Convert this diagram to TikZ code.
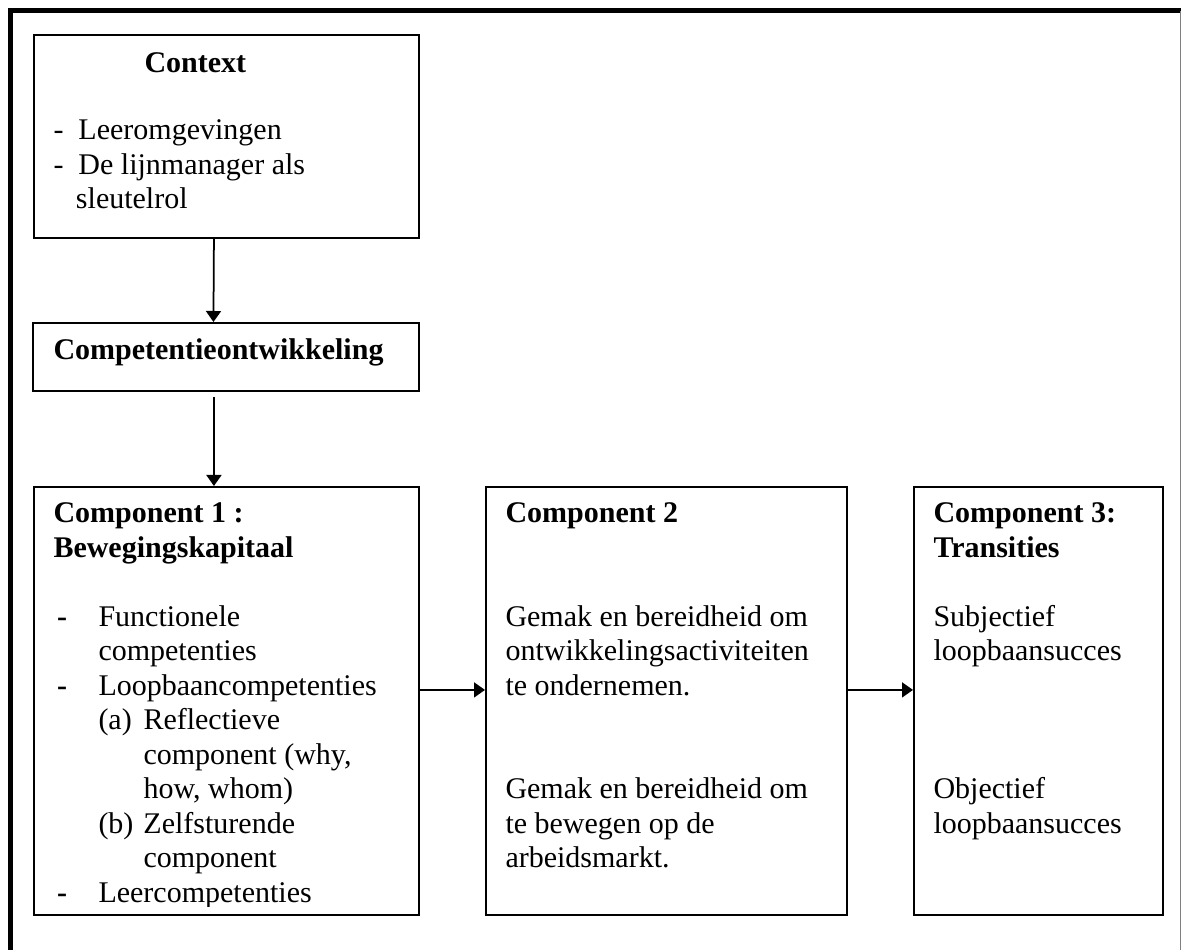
\documentclass[tikz,border=0pt]{standalone}
\usepackage{fontspec}
\setmainfont{Liberation Serif}
\usetikzlibrary{arrows.meta}
\tikzset{box/.style = {draw, line width=0.75pt, anchor=north west, inner sep=0}}
\tikzset{txt/.style = {anchor=base west, inner sep=0, font=\fontsize{12}{13.8}\selectfont}}
\tikzset{arr/.style = {line width=0.7pt, -{Triangle[length=4.4pt, width=6pt]}}}

\begin{document}
\begin{tikzpicture}[x=0.4pt, y=-0.4pt]
           \useasboundingbox (0, 0) rectangle (1181, 950);

           \draw [line width=2pt] (10, 950) -- (10, 11) -- (1181, 11);
           \draw [gray, line width=0.4pt] (1180.5, 11) -- (1180.5, 950);

           \node [box, minimum width=154pt, minimum height=81.2pt] (ctx) at (33, 34) {};
           \node [box, minimum width=154.4pt, minimum height=27.2pt] (comp) at (32, 322) {};
           \node [box, minimum width=154pt, minimum height=171.2pt] (c1) at (33, 486) {};
           \node [box, minimum width=144.4pt, minimum height=171.2pt] (c2) at (485, 486) {};
           \node [box, minimum width=99.6pt, minimum height=171.2pt] (c3) at (913, 486) {};

           \node [txt] (ctxtitle) at (144, 73) {\textbf{Context}};
           \node [txt] (ctxlist) at (53, 140) {\begin{tabular}[t]{@{}p{10pt}@{}l@{}}
               - & Leeromgevingen\\
               - & De lijnmanager als\\
                 & \hspace{-1pt}sleutelrol
             \end{tabular}};

           \node [txt] (comptext) at (53, 360) {\textbf{Competentieontwikkeling}};

           \begin{scope}
             \clip (c1.north west) rectangle ([yshift=3.6pt]c1.south east);
             \node [txt] (c1text) at (53, 523) {\begin{tabular}[t]{@{}p{18pt}@{}l@{}}
                 \multicolumn{2}{@{}l@{}}{\textbf{Component 1 :}}\\
                 \multicolumn{2}{@{}l@{}}{\textbf{Bewegingskapitaal}}\\
                 \\
                 \hspace{1.5pt}\textbf{-} & Functionele\\
                   & competenties\\
                 \hspace{1.5pt}\textbf{-} & Loopbaancompetenties\\
                   & \makebox[18pt][l]{(a)}Reflectieve\\
                   & \hspace{18pt}component (why,\\
                   & \hspace{18pt}how, whom)\\
                   & \makebox[18pt][l]{(b)}Zelfsturende\\
                   & \hspace{18pt}component\\
                 \hspace{1.5pt}\textbf{-} & Leercompetenties
               \end{tabular}};
           \end{scope}

           \node [txt] (c2text) at (505, 523) {\begin{tabular}[t]{@{}l@{}}
               \textbf{Component 2}\\
               \\
               \\
               Gemak en bereidheid om\\
               ontwikkelingsactiviteiten\\
               te ondernemen.\\
               \\
               \\
               Gemak en bereidheid om\\
               te bewegen op de\\
               arbeidsmarkt.
             \end{tabular}};

           \node [txt] (c3text) at (933, 523) {\begin{tabular}[t]{@{}l@{}}
               \textbf{Component 3:}\\
               \textbf{Transities}\\
               \\
               Subjectief\\
               loopbaansucces\\
               \\
               \\
               \\
               Objectief\\
               loopbaansucces
             \end{tabular}};

           \draw [arr] ([xshift=-5pt]ctx.south) -- ([xshift=-5pt]comp.north);
           \draw [arr] ([xshift=-4.8pt, yshift=-2pt]comp.south) -- ([xshift=-5pt]c1.north);
           \draw [arr] ([yshift=4.4pt]c1.east) -- ([yshift=4.4pt]c2.west);
           \draw [arr] ([yshift=4.4pt]c2.east) -- ([yshift=4.4pt]c3.west);
         \end{tikzpicture}
\end{document}
